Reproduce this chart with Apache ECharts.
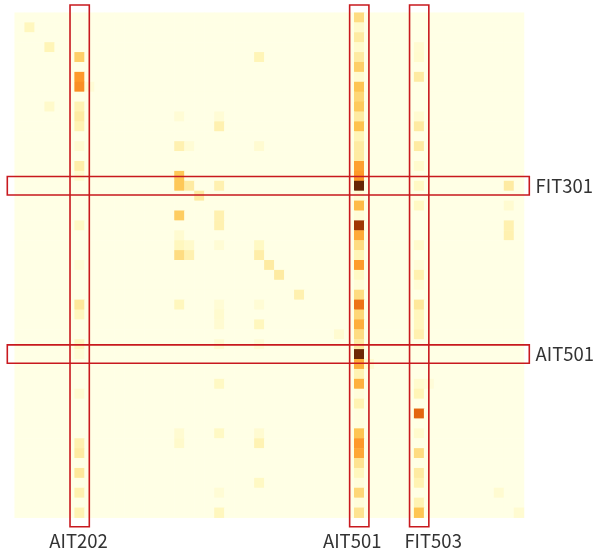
<!DOCTYPE html>
<html><head><meta charset="utf-8">
<script src="https://cdn.jsdelivr.net/npm/echarts@6/dist/echarts.min.js"></script>
<style>html,body{margin:0;padding:0;background:#fff}#c{width:597px;height:557px}</style>
</head><body><div id="c"></div>
<script>
const sensors = ['FIT101','LIT101','MV101','P101','P102','AIT201','AIT202','AIT203','FIT201','MV201',
  'P201','P202','P203','P204','P205','P206','DPIT301','FIT301','LIT301','MV301',
  'MV302','MV303','MV304','P301','P302','AIT401','AIT402','FIT401','LIT401','P401',
  'P402','P403','P404','UV401','AIT501','AIT502','AIT503','AIT504','FIT501','FIT502',
  'FIT503','FIT504','P501','P502','PIT501','PIT502','PIT503','FIT601','P601','P602','P603'];

// attention weight columns (one value per row sensor, top to bottom)
const colAIT202 = [0,0,0,0,0.33,0,0.5,0.53,0,0.15,
  0.2,0.15,0,0.06,0,0.18,0.07,0,0,0,
  0,0.1,0,0,0,0.05,0,0,0,0.22,
  0.12,0,0,0.12,0.05,0,0,0,0.06,0,
  0,0,0,0.16,0.2,0,0.22,0,0.16,0,
  0.15];
const colAIT501 = [0.28,0.08,0.2,0.07,0.2,0.33,0.06,0.37,0.3,0.35,
  0.2,0.38,0.14,0.2,0.2,0.48,0.5,1.0,0.05,0.4,
  0.04,0.86,0.45,0.28,0.14,0.49,0.1,0.04,0.28,0.62,
  0.3,0.44,0.28,0.2,0.98,0.44,0.15,0.43,0.03,0.15,
  0.02,0.02,0.37,0.5,0.46,0.25,0.12,0.03,0.3,0.03,
  0.25];
const colFIT503 = [0,0,0,0.06,0.07,0,0.2,0,0,0,
  0.06,0.2,0,0.2,0,0.07,0,0.1,0,0.1,
  0,0,0,0.07,0,0.04,0.16,0.05,0,0.22,
  0.12,0.12,0.16,0,0,0,0,0.07,0.14,0,
  0.66,0,0.07,0,0.28,0,0.2,0.15,0,0.15,
  0.37];
// remaining non-zero cells: [column sensor, row sensor, value]
const otherCells = [
  ['LIT101','LIT101',0.12],['P101','P101',0.14],['P101','MV201',0.08],['AIT203','AIT203',0.05],
  ['DPIT301','P201',0.05],['DPIT301','P204',0.16],['DPIT301','DPIT301',0.36],['DPIT301','FIT301',0.36],
  ['DPIT301','MV302',0.34],['DPIT301','MV304',0.06],['DPIT301','P301',0.12],['DPIT301','P302',0.28],
  ['DPIT301','P401',0.12],['DPIT301','P501',0.06],['DPIT301','P502',0.08],
  ['FIT301','P204',0.05],['FIT301','FIT301',0.2],['FIT301','P301',0.08],['FIT301','P302',0.16],
  ['LIT301','LIT301',0.2],
  ['MV302','P201',0.05],['MV302','P202',0.16],['MV302','FIT301',0.16],['MV302','MV302',0.16],
  ['MV302','MV303',0.16],['MV302','P301',0.05],['MV302','P401',0.05],['MV302','P402',0.07],
  ['MV302','P403',0.06],['MV302','UV401',0.06],['MV302','AIT504',0.1],['MV302','P501',0.1],
  ['MV302','P601',0.05],['MV302','P603',0.12],
  ['P302','P102',0.14],['P302','P204',0.06],['P302','P301',0.1],['P302','P302',0.18],
  ['P302','P401',0.05],['P302','P403',0.12],['P302','UV401',0.05],['P302','P501',0.06],
  ['P302','P502',0.15],['P302','FIT601',0.1],
  ['AIT401','AIT401',0.2],['AIT402','AIT402',0.2],['LIT401','LIT401',0.16],['P404','P404',0.06],
  ['AIT502','AIT502',0.06],['FIT504','AIT504',0.04],['P601','P601',0.06],
  ['P602','FIT301',0.2],['P602','MV301',0.06],['P602','MV303',0.16],['P602','MV304',0.16],
  ['P603','P603',0.06]
];
const highlightColumns = ['AIT202','AIT501','FIT503'];
const highlightRows = ['FIT301','AIT501'];

// build full matrix
const n = sensors.length;
const matrix = [];
for (let r = 0; r < n; r++) { matrix.push(new Array(n).fill(0)); }
const cols = {AIT202: colAIT202, AIT501: colAIT501, FIT503: colFIT503};
Object.keys(cols).forEach(k => { const c = sensors.indexOf(k); cols[k].forEach((v, r) => { matrix[r][c] = v; }); });
otherCells.forEach(([cn, rn, v]) => { matrix[sensors.indexOf(rn)][sensors.indexOf(cn)] = v; });
const heatData = [];
for (let r = 0; r < n; r++) for (let c = 0; c < n; c++) heatData.push([c, r, matrix[r][c]]);

// highlight boxes (style: label shifts in px)
const labelShift = {AIT202: -1, AIT501: -7, FIT503: 14};
const boxes = highlightColumns.map(s => ({kind: 'col', idx: sensors.indexOf(s), name: s}))
  .concat(highlightRows.map(s => ({kind: 'row', idx: sensors.indexOf(s), name: s})));

const RED = '#c8191e';
const FONT = '"Noto Sans CJK SC", "Noto Sans", sans-serif';

const chart = echarts.init(document.getElementById('c'), null, {renderer: 'canvas'});
chart.setOption({
  animation: false,
  backgroundColor: '#fff',
  grid: {left: 14.7, top: 12.7, width: 509.3, height: 505},
  xAxis: {type: 'category', data: sensors, axisLine: {show: false}, axisTick: {show: false},
    axisLabel: {show: false}, splitLine: {show: false}, splitArea: {show: false}},
  yAxis: {type: 'category', data: sensors, inverse: true, axisLine: {show: false}, axisTick: {show: false},
    axisLabel: {show: false}, splitLine: {show: false}, splitArea: {show: false}},
  visualMap: {show: false, min: 0, max: 1, seriesIndex: 0, dimension: 2,
    inRange: {color: ['#ffffe5','#fff7bc','#fee391','#fec44f','#fe9929','#ec7014','#cc4c02','#993404','#662506']}},
  series: [
    {type: 'heatmap', data: heatData, itemStyle: {borderWidth: 0}, emphasis: {disabled: true}, progressive: 0},
    {type: 'custom', coordinateSystem: 'cartesian2d', clip: false, z: 10, silent: true,
      data: boxes.map((b, i) => [b.idx, b.idx, i]),
      renderItem: function (params, api) {
        const b = boxes[params.dataIndex];
        const sz = api.size([1, 1]);
        const tl = api.coord([0, 0]);
        const br = api.coord([n - 1, n - 1]);
        const X0 = tl[0] - sz[0] / 2, X1 = br[0] + sz[0] / 2;
        const Y0 = tl[1] - sz[1] / 2, Y1 = br[1] + sz[1] / 2;
        const c = api.coord([b.idx, b.idx]);
        let rect, text;
        if (b.kind === 'col') {
          rect = {x: c[0] - sz[0] / 2 - 4.6, y: Y0 - 7.7, width: sz[0] + 9.3, height: (Y1 - Y0) + 7.7 + 9};
          text = {x: c[0] + (labelShift[b.name] || 0), y: Y1 + 23.5, text: b.name, textAlign: 'center', textVerticalAlign: 'middle'};
        } else {
          rect = {x: X0 - 7.4, y: c[1] - sz[1] / 2 - 4.5, width: (X1 - X0) + 7.4 + 5.3, height: sz[1] + 8.5};
          text = {x: X1 + 11.5, y: c[1], text: b.name, textAlign: 'left', textVerticalAlign: 'middle'};
        }
        return {type: 'group', children: [
          {type: 'rect', shape: rect, style: {fill: 'none', stroke: RED, lineWidth: 1.6}},
          {type: 'text', style: Object.assign(text, {fill: '#333', fontSize: 18.5, fontFamily: FONT})}
        ]};
      }
    }
  ]
});
</script></body></html>
